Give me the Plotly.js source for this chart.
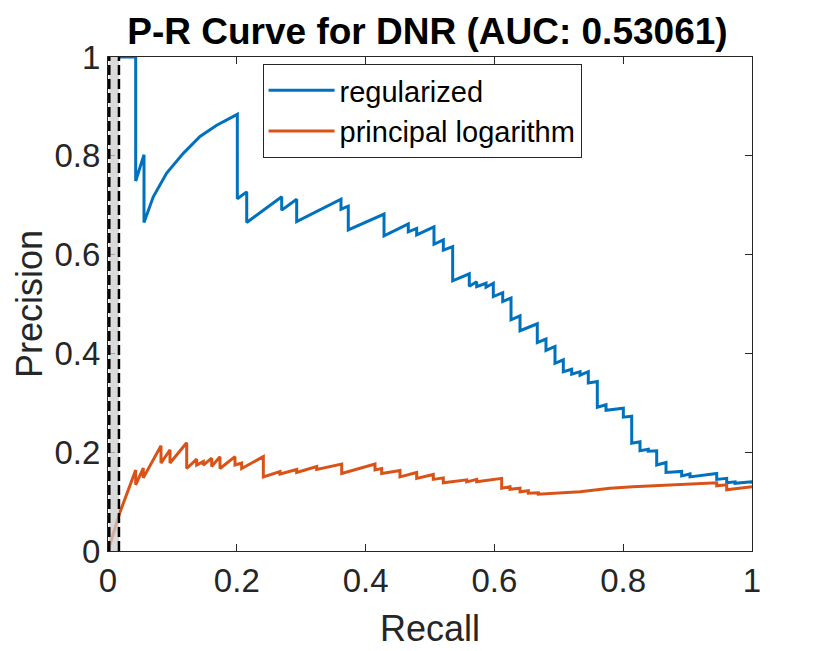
<!DOCTYPE html>
<html><head><meta charset="utf-8">
<script src="https://cdn.plot.ly/plotly-3.0.1.min.js"></script>
<style>html,body{margin:0;padding:0;background:#fff}#chart{width:830px;height:651px}</style>
</head><body><div id="chart"></div>
<script>
// Regularized series (recall, precision)
const regRecall = [0.0186,0.043,0.043,0.0559,0.0559,0.0703,0.0911,0.1169,0.1429,0.1688,0.2008,0.2008,0.2154,0.2154,0.2697,0.2697,0.293,0.293,0.3618,0.3618,0.3731,0.3731,0.4286,0.4286,0.4663,0.4663,0.4793,0.4793,0.5062,0.5062,0.5207,0.5207,0.5352,0.5352,0.561,0.561,0.5725,0.5725,0.587,0.587,0.5983,0.5983,0.6129,0.6129,0.6258,0.6258,0.6398,0.6398,0.6666,0.6666,0.6801,0.6801,0.6941,0.6941,0.707,0.707,0.72,0.72,0.733,0.733,0.7458,0.7458,0.7598,0.7598,0.7733,0.7733,0.8002,0.8002,0.8132,0.8132,0.8261,0.8261,0.839,0.839,0.852,0.852,0.8665,0.8665,0.8908,0.8908,0.9037,0.9037,0.9452,0.9452,0.9607,0.9607,0.9736,0.9736,1.0,1.0];
const regPrecision = [1.0,1.0,0.749,0.802,0.665,0.717,0.765,0.805,0.839,0.862,0.884,0.713,0.727,0.665,0.717,0.690,0.712,0.667,0.712,0.692,0.698,0.650,0.682,0.638,0.662,0.646,0.653,0.640,0.656,0.621,0.630,0.609,0.616,0.547,0.561,0.536,0.545,0.535,0.542,0.534,0.542,0.515,0.523,0.505,0.512,0.468,0.476,0.446,0.460,0.422,0.429,0.406,0.414,0.380,0.387,0.363,0.368,0.358,0.363,0.356,0.363,0.340,0.343,0.291,0.296,0.285,0.289,0.271,0.273,0.218,0.221,0.203,0.206,0.202,0.203,0.174,0.179,0.159,0.161,0.152,0.156,0.150,0.157,0.145,0.147,0.138,0.140,0.137,0.140,0.136];

// Principal logarithm series (recall, precision)
const logRecall = [0,0.0171,0.043,0.043,0.0548,0.0548,0.0823,0.0823,0.0963,0.0963,0.1222,0.1222,0.1377,0.1377,0.148,0.148,0.161,0.161,0.1739,0.1739,0.1972,0.1972,0.2076,0.2076,0.2412,0.2412,0.2671,0.2671,0.293,0.293,0.3241,0.3241,0.3629,0.3629,0.4146,0.4146,0.425,0.425,0.4534,0.4534,0.4793,0.4793,0.5051,0.5051,0.5207,0.5207,0.557,0.557,0.5725,0.5725,0.6113,0.6113,0.6242,0.6242,0.6398,0.6398,0.6526,0.6526,0.6682,0.6682,0.733,0.7795,0.815,0.9452,0.9452,0.9607,0.9607,1.0];
const logPrecision = [0,0.073,0.164,0.134,0.168,0.148,0.213,0.178,0.205,0.178,0.219,0.167,0.186,0.174,0.181,0.174,0.188,0.171,0.191,0.167,0.191,0.174,0.178,0.167,0.191,0.150,0.161,0.156,0.165,0.159,0.171,0.165,0.176,0.157,0.176,0.164,0.167,0.157,0.163,0.150,0.159,0.147,0.155,0.145,0.148,0.138,0.144,0.140,0.145,0.140,0.147,0.127,0.130,0.125,0.127,0.120,0.122,0.117,0.118,0.115,0.120,0.127,0.130,0.138,0.132,0.134,0.124,0.130];

// Shaded recall band with dashed borders
const bandRecall = [0.002, 0.017];
const bandPrecision = [0, 1];

const seriesNames = ['regularized', 'principal logarithm'];
const tickVals = [0, 0.2, 0.4, 0.6, 0.8, 1];
const tickText = ['0', '0.2', '0.4', '0.6', '0.8', '1'];

const FONT = '"Liberation Sans", Arial, Helvetica, sans-serif';
const AX = '#262626';

const traces = [
  {x: regRecall, y: regPrecision, name: seriesNames[0], type: 'scatter', mode: 'lines',
   line: {color: '#0072BD', width: 3}},
  {x: logRecall, y: logPrecision, name: seriesNames[1], type: 'scatter', mode: 'lines',
   line: {color: '#D95319', width: 3}}
];

const shapes = [
  {type: 'rect', xref: 'x', yref: 'y', x0: bandRecall[0], x1: bandRecall[1], y0: bandPrecision[0], y1: bandPrecision[1],
   fillcolor: 'rgba(205,205,205,0.75)', line: {width: 0}, layer: 'above'}
].concat(bandRecall.map(r => ({type: 'line', xref: 'x', yref: 'y', x0: r, x1: r, y0: bandPrecision[0], y1: bandPrecision[1],
   line: {color: '#000', width: 2.5, dash: '10px,4px'}, layer: 'above'})));

const axisCommon = {
  range: [0, 1], tickvals: tickVals, ticktext: tickText, ticks: 'inside', ticklen: 7, tickwidth: 1,
  tickcolor: AX, showline: true, linecolor: AX, linewidth: 1, mirror: 'ticks', showgrid: false,
  zeroline: false, tickfont: {family: FONT, size: 33, color: AX}, fixedrange: true
};

const layout = {
  width: 830, height: 651,
  margin: {l: 108, r: 78, t: 57, b: 100},
  paper_bgcolor: '#fff', plot_bgcolor: '#fff',
  font: {family: FONT, color: AX},
  title: {text: '<b>P-R Curve for DNR (AUC: 0.53061)</b>', font: {family: FONT, size: 37, color: '#000'},
          x: 0.515, xanchor: 'center', y: 0.953, yanchor: 'middle'},
  xaxis: Object.assign({}, axisCommon, {title: {text: 'Recall', font: {family: FONT, size: 36, color: AX}, standoff: 18}}),
  yaxis: Object.assign({}, axisCommon, {title: {text: 'Precision', font: {family: FONT, size: 36, color: AX}, standoff: 0}}),
  showlegend: true,
  legend: {x: 0.240, y: 0.986, xanchor: 'left', yanchor: 'top', bgcolor: '#fff', bordercolor: AX, borderwidth: 1,
           font: {family: FONT, size: 29, color: '#000'}, itemwidth: 66, tracegroupgap: 0},
  shapes: shapes
};

Plotly.newPlot('chart', traces, layout, {staticPlot: true, displayModeBar: false});
</script></body></html>
